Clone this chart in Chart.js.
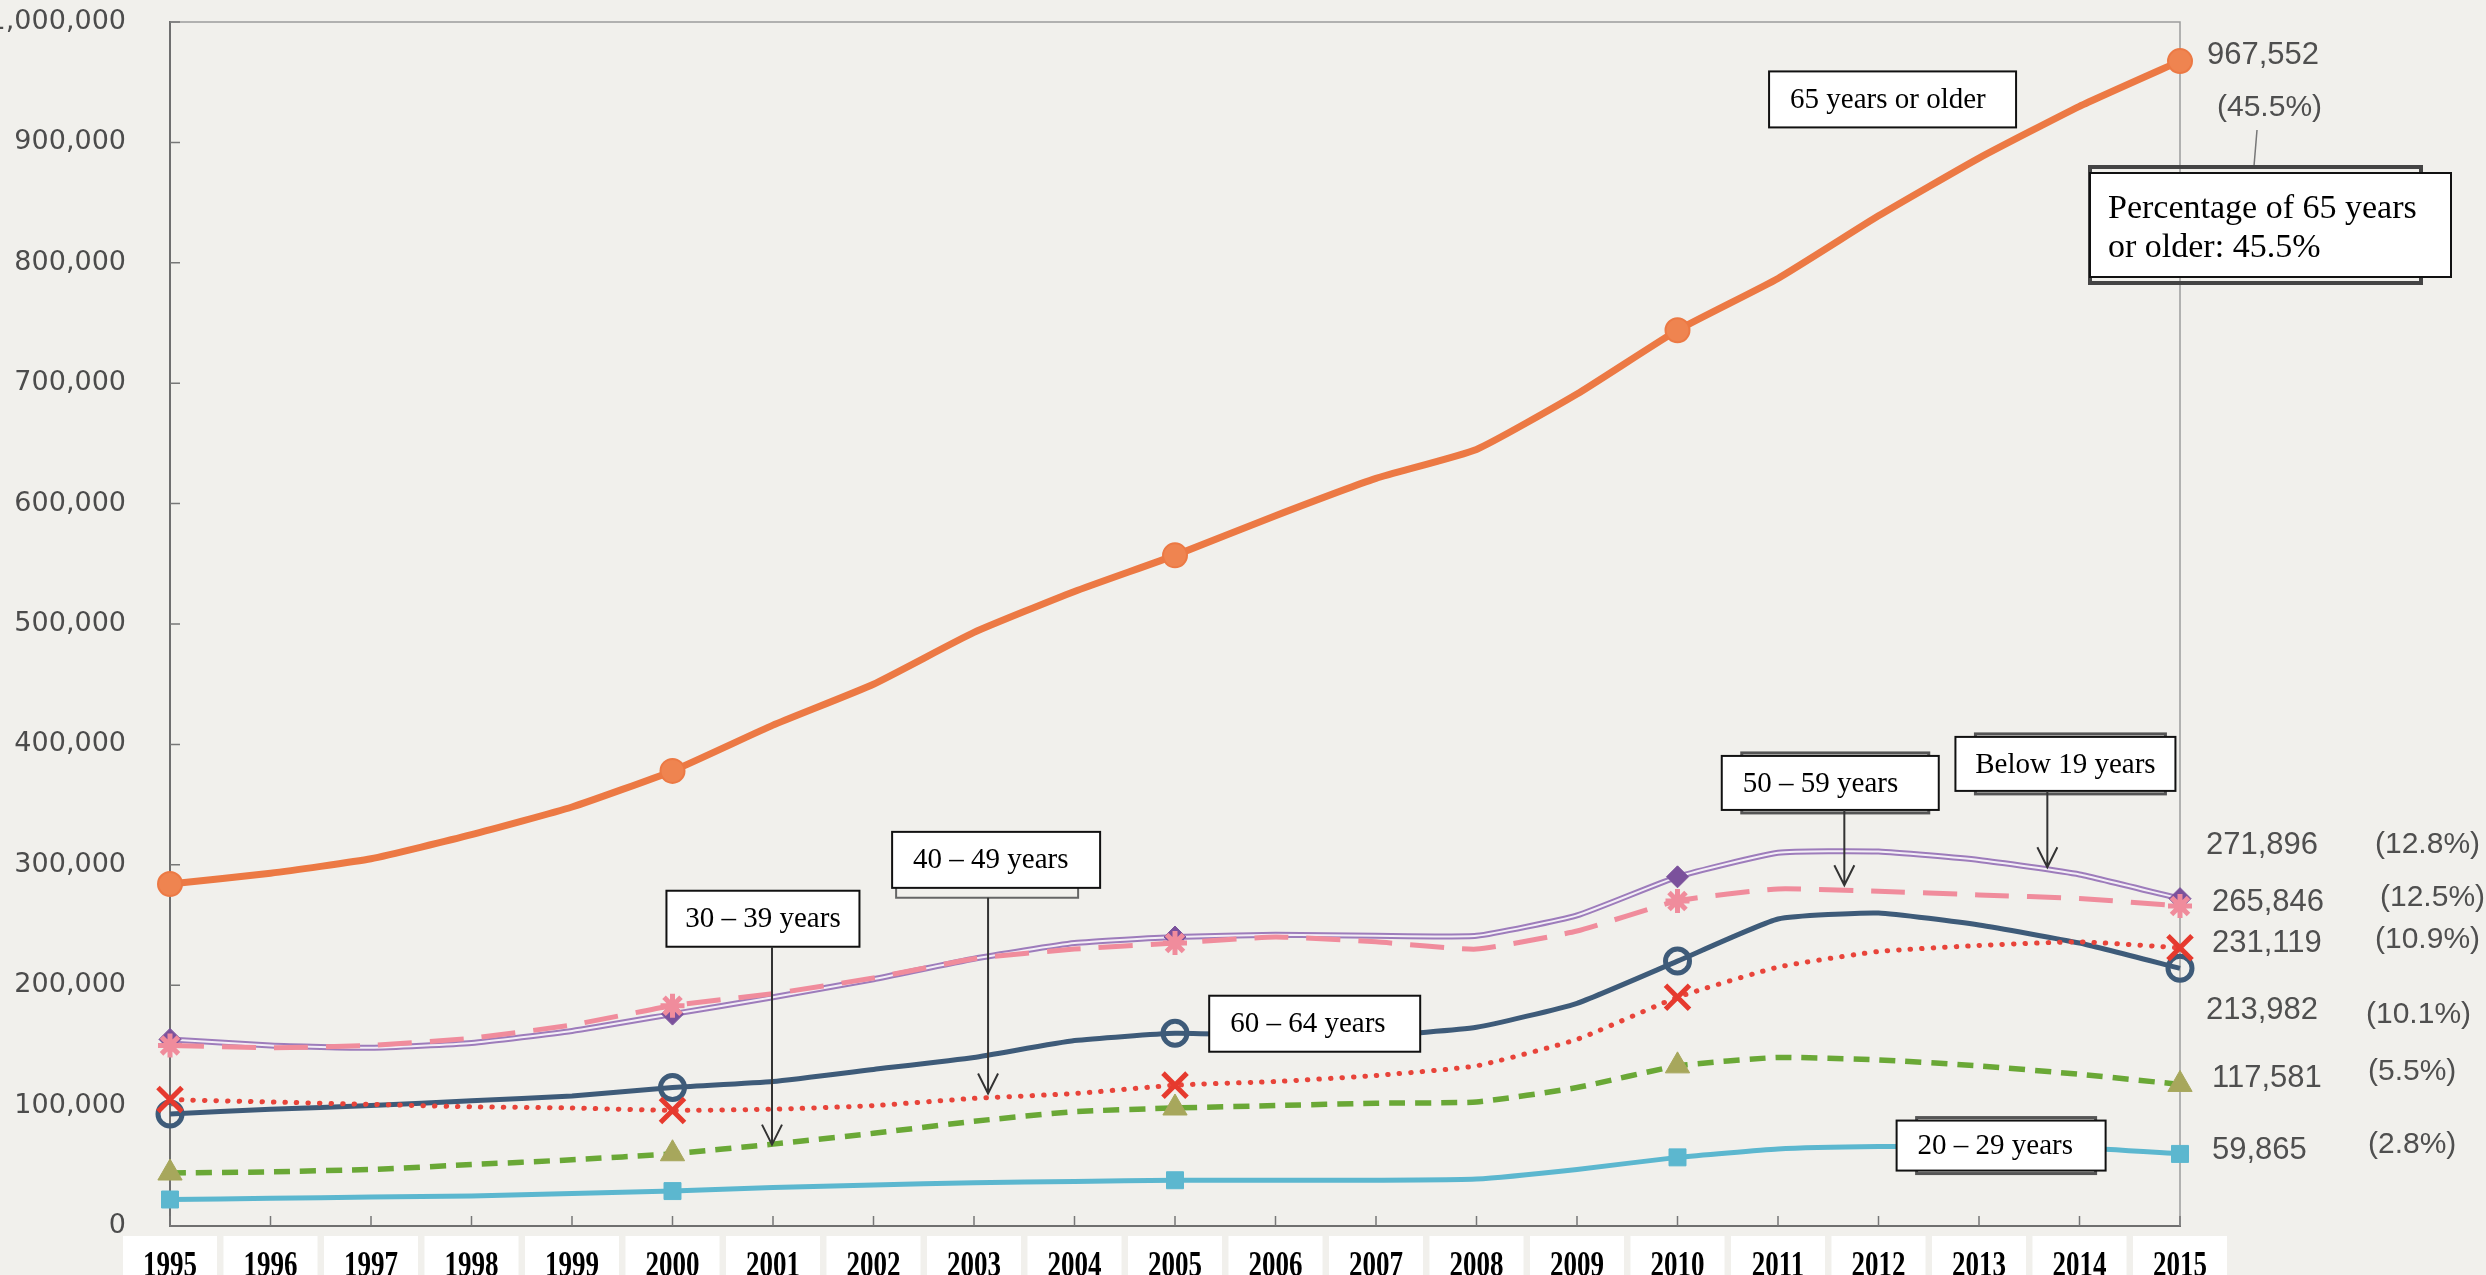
<!DOCTYPE html>
<html lang="en">
<head>
<meta charset="UTF-8">
<title>Patients by age group, 1995-2015</title>
<script src="https://cdn.jsdelivr.net/npm/chart.js@4.4.1/dist/chart.umd.min.js"></script>
<style>
  html, body { margin: 0; padding: 0; background: #f1f0ec; overflow: hidden; }
  #wrap { position: absolute; left: -11px; top: 0; width: 2497px; height: 1275px; }
</style>
</head>
<body>
<div id="wrap"><canvas id="lineChart" width="2497" height="1275"></canvas></div>
<script>
// ---- data ----
const years = ['1995', '1996', '1997', '1998', '1999', '2000', '2001', '2002', '2003', '2004', '2005',
               '2006', '2007', '2008', '2009', '2010', '2011', '2012', '2013', '2014', '2015']

const age65plus = [284000, 293000, 305000, 325000, 348000, 378000, 416000, 450000, 493000, 527000, 557000,
                   590000, 621000, 645000, 691000, 744000, 787000, 839000, 887000, 930000, 967552]
const below19   = [155000, 150000, 148000, 152000, 162000, 176000, 190000, 205000, 222000, 235000, 240000,
                   242000, 241000, 241000, 258000, 290000, 310000, 311000, 304000, 292000, 271896]
const age50to59 = [150000, 148000, 150000, 156000, 167000, 183000, 193000, 206000, 222000, 230000, 235000,
                   240000, 236000, 230000, 245000, 270000, 280000, 278000, 275000, 272000, 265846]
const age40to49 = [105000, 103000, 101000, 99000, 98000, 96000, 97000, 100000, 106000, 110000, 117000,
                   120000, 125000, 133000, 155000, 190000, 215000, 228000, 233000, 236000, 231119]
const age60to64 = [93000, 97000, 100000, 104000, 108000, 115000, 120000, 130000, 140000, 154000, 160000,
                   158000, 158000, 165000, 185000, 220000, 255000, 260000, 250000, 235000, 213982]
const age30to39 = [44000, 45000, 47000, 51000, 55000, 60000, 68000, 77000, 87000, 95000, 98000,
                   100000, 102000, 103000, 115000, 133000, 140000, 138000, 133000, 126000, 117581]
const age20to29 = [22000, 23000, 24000, 25000, 27000, 29000, 32000, 34000, 36000, 37000, 38000,
                   38000, 38000, 39000, 47000, 57000, 64000, 66000, 66000, 65000, 59865]

const endValues = [967552, 271896, 265846, 231119, 213982, 117581, 59865]
const endShares = ['(45.5%)', '(12.8%)', '(12.5%)', '(10.9%)', '(10.1%)', '(5.5%)', '(2.8%)']

const OFFSET = 11   // canvas is shifted left so the top tick label is clipped like the scan
const fmt = v => v.toLocaleString('en-US')
const every5 = r => ctx => (ctx.dataIndex % 5 === 0 ? r : 0)

// annotation boxes, positions in data units (x = year index, y = value)
const notes = [
    { text: '65 years or older', x: 17.14, y: 935700, w: 247, h: 56 },
    { text: '30 – 39 years', x: 5.90, y: 255200, w: 193, h: 56, ax: 5.99, to: 67600 },
    { text: '40 – 49 years', x: 8.22, y: 304100, w: 208, h: 56, ax: 8.14, to: 110000, bracket: true },
    { text: '60 – 64 years', x: 11.39, y: 168000, w: 211, h: 56 },
    { text: '50 – 59 years', x: 16.52, y: 368000, w: 217, h: 54, ax: 16.66, to: 283000, shadow: true },
    { text: 'Below 19 years', x: 18.86, y: 383800, w: 220, h: 54, ax: 18.68, to: 298000, shadow: true },
    { text: '20 – 29 years', x: 18.22, y: 66800, w: 209, h: 50, shadow: true }
]

// label rows on the right, page pixels
const sideRows = [
    { vx: 2207, vy: 55, px: 2217, py: 108 },
    { vx: 2206, vy: 845, px: 2375, py: 845 },
    { vx: 2212, vy: 902, px: 2380, py: 898 },
    { vx: 2212, vy: 943, px: 2375, py: 940 },
    { vx: 2206, vy: 1010, px: 2366, py: 1015 },
    { vx: 2212, vy: 1078, px: 2368, py: 1072 },
    { vx: 2212, vy: 1150, px: 2368, py: 1145 }
]

const backdrop = {
    id: 'backdrop',
    beforeDraw(chart) {
        const ctx = chart.ctx
        const xs = chart.scales.x
        ctx.save()
        ctx.fillStyle = '#f1f0ec'
        ctx.fillRect(0, 0, chart.width, chart.height)
        ctx.fillStyle = '#ffffff'
        years.forEach((y, i) => {
            const x = xs.getPixelForValue(i)
            ctx.fillRect(x - 47, 1236, 94, 39)
        })
        // year labels, bold serif stretched a little in height like the scan
        ctx.fillStyle = '#000'
        ctx.font = 'bold 27px "Liberation Serif"'
        ctx.textAlign = 'center'
        ctx.textBaseline = 'alphabetic'
        years.forEach((y, i) => {
            const x = xs.getPixelForValue(i)
            ctx.save()
            ctx.translate(x, 1276)
            ctx.scale(1, 1.35)
            ctx.fillText(y, 0, 0)
            ctx.restore()
        })
        ctx.restore()
    }
}

const frame = {
    id: 'frame',
    beforeDatasetsDraw(chart) {
        const ctx = chart.ctx
        const a = chart.chartArea
        const xs = chart.scales.x, ys = chart.scales.y
        ctx.save()
        ctx.strokeStyle = '#9c9c9c'
        ctx.lineWidth = 1.5
        ctx.beginPath()
        ctx.moveTo(a.left, a.top)
        ctx.lineTo(a.right, a.top)
        ctx.lineTo(a.right, a.bottom)
        ctx.stroke()
        ctx.strokeStyle = '#777'
        ctx.lineWidth = 1.5
        ctx.beginPath()
        ys.ticks.forEach(t => {
            const y = ys.getPixelForValue(t.value)
            ctx.moveTo(a.left, y)
            ctx.lineTo(a.left + 10, y)
        })
        years.forEach((yr, i) => {
            const x = xs.getPixelForValue(i)
            ctx.moveTo(x, a.bottom)
            ctx.lineTo(x, a.bottom - 10)
        })
        ctx.stroke()
        ctx.restore()
    }
}

function arrow(ctx, x, y1, y2) {
    ctx.beginPath()
    ctx.moveTo(x, y1)
    ctx.lineTo(x, y2)
    ctx.moveTo(x - 10, y2 - 20)
    ctx.lineTo(x, y2)
    ctx.lineTo(x + 10, y2 - 20)
    ctx.stroke()
}

const callouts = {
    id: 'callouts',
    afterDraw(chart) {
        const ctx = chart.ctx
        const xs = chart.scales.x, ys = chart.scales.y
        ctx.save()
        ctx.textAlign = 'left'
        ctx.textBaseline = 'middle'
        ctx.font = '29px "Liberation Serif"'
        notes.forEach(n => {
            const cx = xs.getPixelForValue(n.x), cy = ys.getPixelForValue(n.y)
            const l = cx - n.w / 2, t = cy - n.h / 2
            if (n.shadow) {
                ctx.strokeStyle = '#555'
                ctx.lineWidth = 3
                ctx.strokeRect(l + 20, t - 3, n.w - 30, n.h + 6)
            }
            if (n.bracket) {
                ctx.strokeStyle = '#666'
                ctx.lineWidth = 2
                ctx.beginPath()
                ctx.moveTo(l + 4, t + n.h)
                ctx.lineTo(l + 4, t + n.h + 10)
                ctx.lineTo(l + n.w - 22, t + n.h + 10)
                ctx.lineTo(l + n.w - 22, t + n.h)
                ctx.stroke()
            }
            ctx.fillStyle = '#fff'
            ctx.fillRect(l, t, n.w, n.h)
            ctx.strokeStyle = '#111'
            ctx.lineWidth = 2
            ctx.strokeRect(l, t, n.w, n.h)
            ctx.fillStyle = '#000'
            const tw = ctx.measureText(n.text).width
            ctx.fillText(n.text, l + Math.min(21, (n.w - tw) / 2), cy + 1)
            if (n.ax !== undefined) {
                ctx.strokeStyle = '#333'
                ctx.lineWidth = 2
                arrow(ctx, xs.getPixelForValue(n.ax), t + n.h + (n.bracket ? 10 : 0), ys.getPixelForValue(n.to))
            }
        })

        // right side values, page coordinates
        ctx.translate(OFFSET, 0)
        ctx.fillStyle = '#4f4f4f'
        sideRows.forEach((r, i) => {
            ctx.font = '31px "Liberation Sans"'
            ctx.fillText(fmt(endValues[i]), r.vx, r.vy)
            ctx.font = '30px "Liberation Sans"'
            ctx.fillText(endShares[i], r.px, r.py)
        })
        ctx.strokeStyle = '#777'
        ctx.lineWidth = 1.5
        ctx.beginPath()
        ctx.moveTo(2257, 130)
        ctx.lineTo(2254, 166)
        ctx.stroke()

        // share box for 65 years or older
        ctx.strokeStyle = '#444'
        ctx.lineWidth = 4
        ctx.strokeRect(2090, 167, 331, 116)
        ctx.fillStyle = '#fff'
        ctx.fillRect(2090, 173, 361, 104)
        ctx.strokeStyle = '#111'
        ctx.lineWidth = 2
        ctx.strokeRect(2090, 173, 361, 104)
        ctx.fillStyle = '#000'
        ctx.font = '34px "Liberation Serif"'
        ctx.fillText('Percentage of 65 years', 2108, 209)
        ctx.fillText('or older: 45.5%', 2108, 248)
        ctx.restore()
    }
}

const line = document.getElementById('lineChart')
const myLineChart = new Chart(line, {
    type: 'line',
    data: {
        labels: years,
        datasets: [{
            label: '65 years or older',
            data: age65plus,
            borderColor: '#ec7944',
            borderWidth: 7,
            pointStyle: 'circle',
            pointRadius: every5(12),
            pointBackgroundColor: '#ef8450',
            pointBorderColor: '#ec7944',
            pointBorderWidth: 2
        }, {
            label: '20 – 29 years',
            data: age20to29,
            borderColor: '#5cb7cf',
            borderWidth: 5,
            pointStyle: 'rect',
            pointRadius: every5(12),
            pointBackgroundColor: '#5cb7cf',
            pointBorderColor: '#5cb7cf',
            pointBorderWidth: 1
        }, {
            label: '30 – 39 years',
            data: age30to39,
            borderColor: '#6aa836',
            borderWidth: 5.5,
            borderDash: [16, 10],
            pointStyle: 'triangle',
            pointRadius: every5(14),
            pointBackgroundColor: '#a7a75c',
            pointBorderColor: '#a7a75c',
            pointBorderWidth: 1
        }, {
            label: '40 – 49 years',
            data: age40to49,
            borderColor: '#e8443a',
            borderWidth: 5,
            borderDash: [0.5, 11],
            borderCapStyle: 'round',
            pointStyle: 'crossRot',
            pointRadius: every5(17),
            pointBorderColor: '#e63a2e',
            pointBorderWidth: 5
        }, {
            label: '60 – 64 years',
            data: age60to64,
            borderColor: '#3e5b79',
            borderWidth: 5,
            pointStyle: 'circle',
            pointRadius: every5(12),
            pointBackgroundColor: 'rgba(0,0,0,0)',
            pointBorderColor: '#3e5b79',
            pointBorderWidth: 5
        }, {
            label: '50 – 59 years',
            data: age50to59,
            borderColor: '#f08c9c',
            borderWidth: 5,
            borderDash: [34, 18],
            pointStyle: 'star',
            pointRadius: every5(12),
            pointBorderColor: '#f08c9c',
            pointBorderWidth: 5
        }, {
            label: 'Below 19 years',
            data: below19,
            borderColor: '#f3eef6',
            borderWidth: 2,
            pointStyle: 'rectRot',
            pointRadius: every5(11),
            pointBackgroundColor: '#7b519c',
            pointBorderColor: '#7b519c',
            pointBorderWidth: 1
        }, {
            label: 'Below 19 years (outline)',
            data: below19,
            borderColor: '#9d7cbb',
            borderWidth: 6,
            pointRadius: 0
        }]
    },
    options: {
        responsive: false,
        animation: false,
        events: [],
        elements: { line: { tension: 0.15, fill: false } },
        layout: { padding: { top: 21, right: 306, bottom: 0, left: 0 } },
        plugins: {
            legend: { display: false },
            tooltip: { enabled: false },
            title: { display: false }
        },
        scales: {
            x: {
                grid: { display: false, drawTicks: false },
                border: { display: true, color: '#6f6f6f', width: 2 },
                ticks: { display: false, autoSkip: false, maxRotation: 0 },
                afterFit(scale) {
                    scale.height = 49
                    scale.paddingLeft = 0
                    scale.paddingRight = 0
                }
            },
            y: {
                min: 0,
                max: 1000000,
                grid: { display: false, drawTicks: false },
                border: { display: true, color: '#6f6f6f', width: 2 },
                ticks: {
                    stepSize: 100000,
                    color: '#4c4c4c',
                    padding: 44,
                    font: { family: 'DejaVu Sans', size: 27 },
                    callback: v => fmt(v)
                },
                afterFit(scale) {
                    scale.width = 181
                    scale.paddingTop = 0
                    scale.paddingBottom = 0
                }
            }
        }
    },
    plugins: [backdrop, frame, callouts]
})
</script>
</body>
</html>
